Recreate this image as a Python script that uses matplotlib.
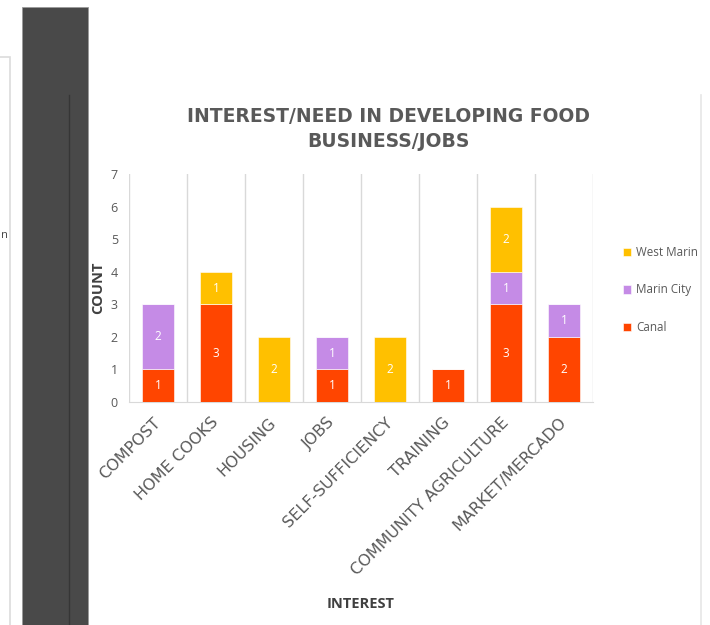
import numpy as np
import matplotlib
matplotlib.use("Agg")
import matplotlib.pyplot as plt
from matplotlib.patches import Rectangle
from matplotlib.lines import Line2D

categories = ["COMPOST", "HOME COOKS", "HOUSING", "JOBS", "SELF-SUFFICIENCY",
              "TRAINING", "COMMUNITY AGRICULTURE", "MARKET/MERCADO"]
canal = [1, 3, 0, 1, 0, 1, 3, 2]
marin_city = [2, 0, 0, 1, 0, 0, 1, 1]
west_marin = [0, 1, 2, 0, 2, 0, 2, 0]
y_ticks = [0, 1, 2, 3, 4, 5, 6, 7]

W, H = 710, 625
plt.rcParams.update({"font.family": ["Open Sans", "DejaVu Sans"]})
fig = plt.figure(figsize=(W / 100, H / 100), dpi=100)


def fx(x):
    return x / W


def fy(y):
    return 1 - y / H


def rect(x0, y0, x1, y1, **kw):
    fig.add_artist(Rectangle((fx(x0), fy(y1)), fx(x1 - x0), (y1 - y0) / H,
                             transform=fig.transFigure, **kw))


def vline(x, y0, y1, color, lw=1):
    fig.add_artist(Line2D([fx(x), fx(x)], [fy(y0), fy(y1)], color=color, lw=lw,
                          transform=fig.transFigure))


# screenshot frame around the chart
rect(-5, 57, 10, 630, facecolor="white", edgecolor="#dcdcdc", lw=1.2)
rect(22, 7, 88, 630, facecolor="#494949", edgecolor="#9a9a9a", lw=0.6)
vline(69, 95, 625, "#363636", 1)
vline(701, 95, 625, "#e6e6e6", 1.2)
fig.text(fx(1), fy(236), "n", fontsize=8, color="#444444", va="center")

ax = fig.add_axes([fx(129), fy(402), fx(593 - 129), (402 - 174) / H])
x = np.arange(len(categories))
colors = {"Canal": "#FF4500", "Marin City": "#C58BE6", "West Marin": "#FFC000"}
bottom = np.zeros(len(categories))
bars = {}
for name, vals in [("Canal", canal), ("Marin City", marin_city), ("West Marin", west_marin)]:
    vals = np.array(vals)
    b = ax.bar(x, vals, width=0.55, bottom=bottom, color=colors[name],
               edgecolor="white", linewidth=0.4, label=name, zorder=3)
    ax.bar_label(b, labels=[str(v) if v > 0 else "" for v in vals],
                 label_type="center", color="white", fontsize=8.5)
    bars[name] = b
    bottom += vals

ax.set_xlim(-0.5, len(categories) - 0.5)
ax.set_ylim(0, 7)
ax.set_yticks(y_ticks)
ax.set_xticks(x)
ax.set_xticks(np.arange(len(categories) + 1) - 0.5, minor=True)
ax.grid(True, which="minor", axis="x", color="#d9d9d9", lw=1, zorder=0)
ax.tick_params(axis="both", which="both", length=0, colors="#595959", labelsize=9)
ax.tick_params(axis="y", pad=8)
ax.set_xticklabels(categories, rotation=45, ha="right", va="center",
                   rotation_mode="anchor", fontsize=11.5, family="DejaVu Sans")
ax.tick_params(axis="x", pad=13)
for s in ["top", "right", "left"]:
    ax.spines[s].set_visible(False)
ax.spines["bottom"].set_color("#d9d9d9")

fig.text(fx(388), fy(129), "INTEREST/NEED IN DEVELOPING FOOD\nBUSINESS/JOBS",
         ha="center", va="center", fontsize=13.5, fontweight="bold",
         color="#595959", linespacing=1.45, family="DejaVu Sans")
fig.text(fx(98), fy(288), "COUNT", rotation=90, ha="center", va="center",
         fontsize=10.5, fontweight="bold", color="#404040")
fig.text(fx(361), fy(604), "INTEREST", ha="center", va="center",
         fontsize=10.5, fontweight="bold", color="#404040")

handles = [bars["West Marin"], bars["Marin City"], bars["Canal"]]
fig.legend(handles, ["West Marin", "Marin City", "Canal"],
           loc="center left", bbox_to_anchor=(fx(612), fy(290)),
           frameon=False, fontsize=8.4, handlelength=0.75, handleheight=0.75,
           handletextpad=0.4, labelspacing=2.1, labelcolor="#595959")

fig.savefig("out.png", dpi=100, facecolor="white")
